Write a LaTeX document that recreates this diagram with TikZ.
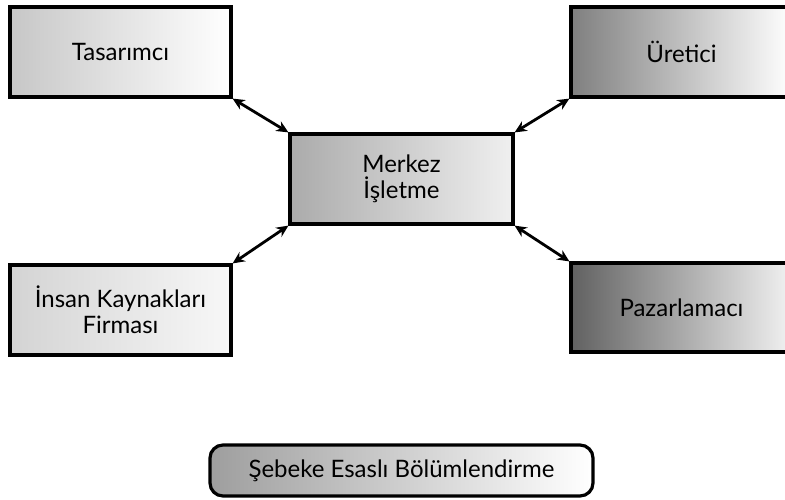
\documentclass[tikz,border=0pt]{standalone}
\usepackage{fontspec}
\setmainfont{Lato}
\usetikzlibrary{arrows.meta}
\begin{document}
\begin{tikzpicture}[x=1pt,y=-1pt,
  box/.style={draw=black, line width=3.2pt, minimum width=221pt, minimum height=90pt, inner sep=0pt, align=center, font=\fontsize{24}{26}\selectfont, text=black},
  link/.style={line width=2.8pt, {Stealth[length=12pt,width=11pt]}-{Stealth[length=12pt,width=11pt]}}
]
\useasboundingbox (0,0) rectangle (785,499);
\node[box, left color=black!22, right color=white] (tas) at (120.5,52) {Tasarımcı};
\node[box, left color=black!50, right color=white] (ure) at (681.5,52) {Üretici};
\node[box, minimum width=223pt, left color=black!33, right color=black!6] (mer) at (401.5,179) {Merkez\\İşletme};
\node[box, left color=black!17, right color=black!3] (ins) at (120.5,310) {İnsan Kaynakları\\Firması};
\node[box, minimum height=89pt, left color=black!62, right color=black!5] (paz) at (681.5,307.5) {Pazarlamacı};
\node[box, minimum width=383pt, minimum height=51pt, rounded corners=13pt, left color=black!38, right color=white] (seb) at (401.5,470.5) {Şebeke Esaslı Bölümlendirme};
\draw[link] (tas.south east) -- (mer.north west);
\draw[link] (ure.south west) -- (mer.north east);
\draw[link] (ins.north east) -- (mer.south west);
\draw[link] (paz.north west) -- (mer.south east);
\end{tikzpicture}
\end{document}
